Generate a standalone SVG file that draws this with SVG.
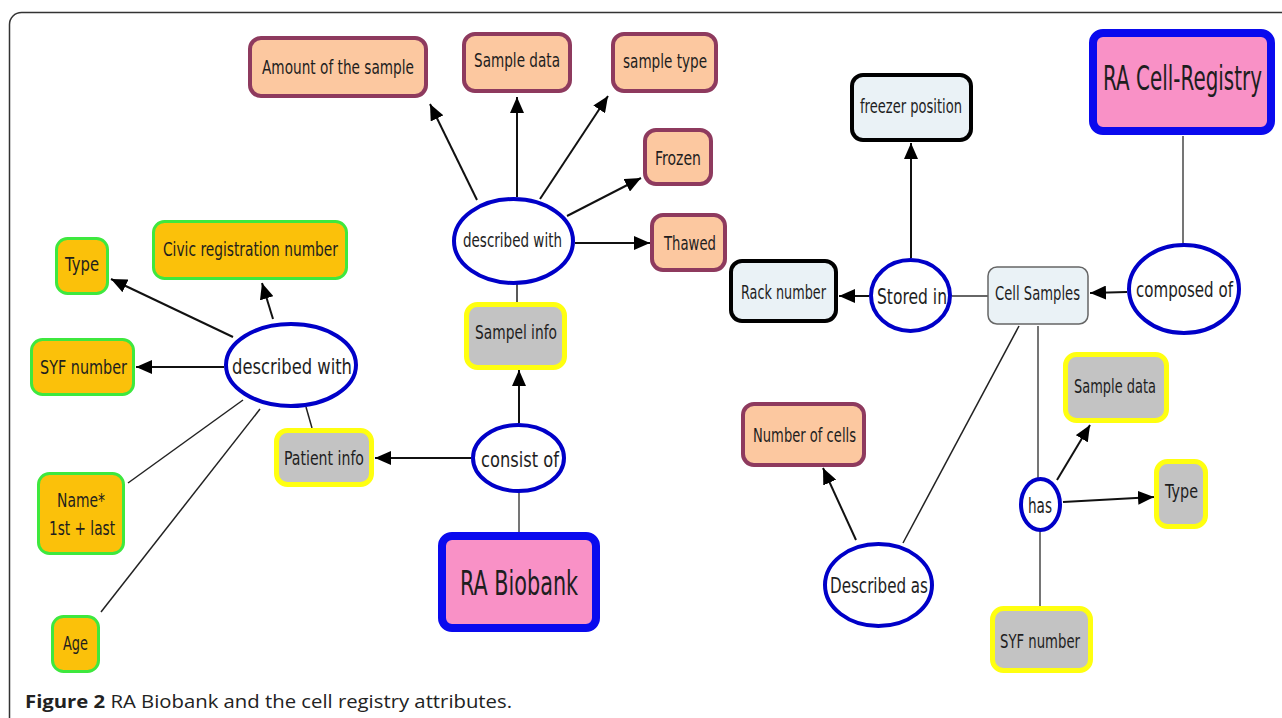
<svg xmlns="http://www.w3.org/2000/svg" width="1282" height="718" viewBox="0 0 1282 718">
<style>
.t{font-family:"DejaVu Sans","Liberation Sans",sans-serif;font-size:19px;fill:#1e1e1e;text-anchor:middle}
.e{font-size:22px}
.big{font-size:34px}
.peach{fill:#fcc8a0;stroke:#8e3a5e;stroke-width:4}
.green{fill:#fbc10a;stroke:#3ee83e;stroke-width:3}
.gray{fill:#c3c3c3;stroke:#ffff10;stroke-width:5}
.lb{fill:#eaf2f6;stroke:#000;stroke-width:4}
.cs{fill:#eaf2f6;stroke:#666;stroke-width:1.5}
.pink{fill:#f991c6;stroke:#0a0aee;stroke-width:8}
.ell{fill:#fff;stroke:#0000c8;stroke-width:4}
.a{stroke:#111;stroke-width:2;fill:none;marker-end:url(#ah)}
.l{stroke:#222;stroke-width:1.5;fill:none}
.g{stroke:#666;stroke-width:1.8;fill:none}
.cap{font-family:"Open Sans","Liberation Sans",sans-serif;font-size:18px;fill:#222}
</style>
<defs>
<marker id="ah" markerUnits="userSpaceOnUse" markerWidth="16" markerHeight="14" refX="16" refY="7" orient="auto">
<path d="M0,0 L16,7 L0,14 z" fill="#000"/>
</marker>
</defs>
<rect x="9.5" y="12.5" width="1300" height="720" rx="12" fill="#fff" stroke="#333" stroke-width="1.5"/>

<g id="connectors">
<line class="a" x1="477" y1="200" x2="430" y2="104"/>
<line class="a" x1="517" y1="197" x2="517" y2="97"/>
<line class="a" x1="540" y1="199" x2="608" y2="96"/>
<line class="a" x1="567" y1="216" x2="641" y2="178"/>
<line class="a" x1="575" y1="243" x2="650" y2="243"/>
<line class="l" x1="517" y1="283" x2="517" y2="302"/>
<line class="a" x1="519" y1="423" x2="519" y2="370"/>
<line class="a" x1="471" y1="458" x2="375" y2="458"/>
<line class="g" x1="519" y1="491" x2="519" y2="532"/>
<line class="a" x1="233" y1="337" x2="111" y2="279"/>
<line class="a" x1="273" y1="319" x2="262" y2="283"/>
<line class="a" x1="224" y1="367" x2="136" y2="367"/>
<line class="l" x1="306" y1="407" x2="312" y2="428"/>
<line class="l" x1="243" y1="400" x2="128" y2="483"/>
<line class="l" x1="260" y1="409" x2="101" y2="612"/>
<line class="a" x1="911" y1="258" x2="911" y2="143"/>
<line class="a" x1="869" y1="296" x2="839" y2="296"/>
<line class="g" x1="952" y1="296" x2="988" y2="296"/>
<line class="a" x1="1127" y1="292" x2="1090" y2="293"/>
<line class="g" x1="1183" y1="136" x2="1183" y2="244"/>
<line class="l" x1="1019" y1="326" x2="903" y2="543"/>
<line class="g" x1="1038" y1="326" x2="1038" y2="478"/>
<line class="a" x1="1057" y1="480" x2="1090" y2="425"/>
<line class="a" x1="1063" y1="502" x2="1154" y2="497"/>
<line class="g" x1="1040" y1="531" x2="1040" y2="607"/>
<line class="a" x1="856" y1="540" x2="823" y2="468"/>
</g>

<g id="n-amount"><rect class="peach" x="250" y="38" width="176" height="58" rx="11"/><text class="t" x="338" y="74" textLength="152" lengthAdjust="spacingAndGlyphs">Amount of the sample</text></g>
<g id="n-sampledata1"><rect class="peach" x="464" y="34" width="106" height="57" rx="11"/><text class="t" x="517" y="67" textLength="86" lengthAdjust="spacingAndGlyphs">Sample data</text></g>
<g id="n-sampletype"><rect class="peach" x="613" y="34" width="103" height="57" rx="11"/><text class="t" x="665" y="68" textLength="84" lengthAdjust="spacingAndGlyphs">sample type</text></g>
<g id="n-frozen"><rect class="peach" x="645" y="130" width="66" height="54" rx="11"/><text class="t" x="678" y="165" textLength="46" lengthAdjust="spacingAndGlyphs">Frozen</text></g>
<g id="n-thawed"><rect class="peach" x="652" y="215" width="73" height="55" rx="11"/><text class="t" x="690" y="250" textLength="52" lengthAdjust="spacingAndGlyphs">Thawed</text></g>
<g id="n-describedwith1"><ellipse class="ell" cx="513.5" cy="241" rx="59.5" ry="42"/><text class="t" x="512.5" y="247" textLength="99" lengthAdjust="spacingAndGlyphs">described with</text></g>
<g id="n-sampelinfo"><rect class="gray" x="466.5" y="304.5" width="98" height="63" rx="11"/><text class="t" x="516" y="339" textLength="82" lengthAdjust="spacingAndGlyphs">Sampel info</text></g>
<g id="n-consistof"><ellipse class="ell" cx="518.5" cy="458" rx="45.5" ry="33"/><text class="t e" x="520" y="467" textLength="78" lengthAdjust="spacingAndGlyphs">consist of</text></g>
<g id="n-patientinfo"><rect class="gray" x="276.5" y="430.5" width="95" height="54" rx="11"/><text class="t" x="324" y="465" textLength="80" lengthAdjust="spacingAndGlyphs">Patient info</text></g>
<g id="n-rabiobank"><rect class="pink" x="442" y="536" width="154" height="92" rx="10"/><text class="t big" transform="translate(519,595) scale(0.6,1)" x="0" y="0" textLength="197" lengthAdjust="spacingAndGlyphs">RA Biobank</text></g>
<g id="n-describedwith2"><ellipse class="ell" cx="291" cy="365" rx="65" ry="41"/><text class="t e" x="292" y="374" textLength="120" lengthAdjust="spacingAndGlyphs">described with</text></g>
<g id="n-type1"><rect class="green" x="56.5" y="238.5" width="51" height="55" rx="11"/><text class="t" x="82" y="271" textLength="34" lengthAdjust="spacingAndGlyphs">Type</text></g>
<g id="n-civic"><rect class="green" x="153.5" y="221.5" width="193" height="57" rx="11"/><text class="t" x="250.5" y="256" textLength="175" lengthAdjust="spacingAndGlyphs">Civic registration number</text></g>
<g id="n-syf1"><rect class="green" x="31.5" y="339.5" width="102" height="55" rx="11"/><text class="t" x="83.5" y="374" textLength="87" lengthAdjust="spacingAndGlyphs">SYF number</text></g>
<g id="n-name"><rect class="green" x="38.5" y="473.5" width="85" height="80" rx="11"/><text class="t" x="81" y="507" textLength="48" lengthAdjust="spacingAndGlyphs">Name*</text><text class="t" x="82" y="535" textLength="66" lengthAdjust="spacingAndGlyphs">1st + last</text></g>
<g id="n-age"><rect class="green" x="52.5" y="616.5" width="46" height="55" rx="11"/><text class="t" x="75.5" y="650" textLength="25" lengthAdjust="spacingAndGlyphs">Age</text></g>
<g id="n-freezer"><rect class="lb" x="852" y="75" width="119" height="65" rx="11"/><text class="t" x="911" y="113" textLength="102" lengthAdjust="spacingAndGlyphs">freezer position</text></g>
<g id="n-rack"><rect class="lb" x="731" y="261" width="105" height="60" rx="11"/><text class="t" x="783.5" y="299" textLength="85" lengthAdjust="spacingAndGlyphs">Rack number</text></g>
<g id="n-storedin"><ellipse class="ell" cx="910.5" cy="295.5" rx="39.5" ry="35.5"/><text class="t e" x="912" y="304" textLength="70" lengthAdjust="spacingAndGlyphs">Stored in</text></g>
<g id="n-cellsamples"><rect class="cs" x="988" y="267" width="100" height="57" rx="9"/><text class="t" x="1037.5" y="300" textLength="85" lengthAdjust="spacingAndGlyphs">Cell Samples</text></g>
<g id="n-composedof"><ellipse class="ell" cx="1184" cy="289" rx="55" ry="44"/><text class="t e" x="1184.5" y="297" textLength="97" lengthAdjust="spacingAndGlyphs">composed of</text></g>
<g id="n-racellregistry"><rect class="pink" x="1093" y="33" width="178" height="98" rx="10"/><text class="t big" transform="translate(1182.5,90) scale(0.58,1)" x="0" y="0" textLength="274" lengthAdjust="spacingAndGlyphs">RA Cell-Registry</text></g>
<g id="n-numcells"><rect class="peach" x="743" y="404" width="121" height="61" rx="11"/><text class="t" x="804.5" y="442" textLength="103" lengthAdjust="spacingAndGlyphs">Number of cells</text></g>
<g id="n-describedas"><ellipse class="ell" cx="878.5" cy="585" rx="53.5" ry="41"/><text class="t e" x="879" y="593" textLength="98" lengthAdjust="spacingAndGlyphs">Described as</text></g>
<g id="n-has"><ellipse class="ell" cx="1040.5" cy="504.5" rx="19.5" ry="25.5"/><text class="t e" x="1040" y="513" textLength="24" lengthAdjust="spacingAndGlyphs">has</text></g>
<g id="n-sampledata2"><rect class="gray" x="1065.5" y="354.5" width="101" height="66" rx="11"/><text class="t" x="1115" y="393" textLength="82" lengthAdjust="spacingAndGlyphs">Sample data</text></g>
<g id="n-type2"><rect class="gray" x="1156.5" y="461.5" width="49" height="65" rx="11"/><text class="t" x="1181.5" y="498" textLength="33" lengthAdjust="spacingAndGlyphs">Type</text></g>
<g id="n-syf2"><rect class="gray" x="992.5" y="608.5" width="98" height="62" rx="11"/><text class="t" x="1040" y="648" textLength="80" lengthAdjust="spacingAndGlyphs">SYF number</text></g>

<text class="cap" x="25" y="708" textLength="487" lengthAdjust="spacingAndGlyphs"><tspan font-weight="bold">Figure 2</tspan> RA Biobank and the cell registry attributes.</text>
</svg>
